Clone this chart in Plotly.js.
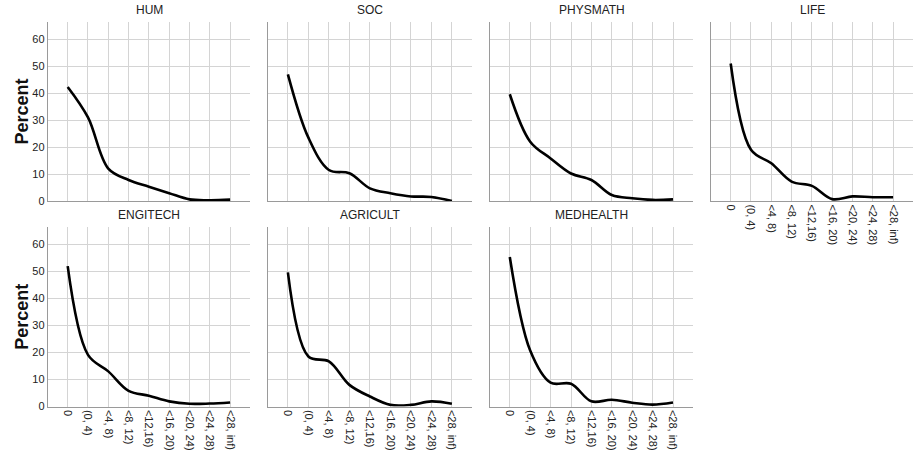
<!DOCTYPE html>
<html>
<head>
<meta charset="utf-8">
<script src="https://cdn.plot.ly/plotly-3.0.1.min.js"></script>
<style>html,body{margin:0;padding:0;background:#fff;}#chart{width:914px;height:454px;}</style>
</head>
<body>
<div id="chart"></div>
<script>
const categories = ["0", "(0, 4)", "<4, 8)", "<8, 12)", "<12,16)", "<16, 20)", "<20, 24)", "<24, 28)", "<28, inf)"];
const panelNames = ["HUM", "SOC", "PHYSMATH", "LIFE", "ENGITECH", "AGRICULT", "MEDHEALTH"];
const hum      = [42.3, 31.0, 12.0, 7.8, 5.3, 2.9, 0.6, 0.3, 0.5];
const soc      = [47.0, 23.5, 11.5, 10.3, 4.7, 2.9, 1.7, 1.5, 0.0];
const physmath = [39.6, 22.0, 15.8, 10.2, 7.8, 2.2, 1.0, 0.4, 0.6];
const life     = [51.0, 19.0, 14.0, 7.2, 5.6, 0.7, 1.7, 1.4, 1.4];
const engitech = [51.9, 19.1, 13.0, 5.8, 4.0, 1.9, 1.0, 1.1, 1.5];
const agricult = [49.6, 18.5, 16.7, 8.0, 3.7, 0.6, 0.6, 1.9, 1.0];
const medhealth= [55.3, 20.7, 8.8, 8.4, 1.9, 2.5, 1.4, 0.7, 1.5];
const yTicks = [0, 10, 20, 30, 40, 50, 60];
const yLabel = "Percent";

const series = [hum, soc, physmath, life, engitech, agricult, medhealth];
const W = 914, H = 454;
const cols = [[48, 250], [268, 472], [490, 693], [711, 913]];
const rows = [[22, 201], [227, 406.5]];
// panel index -> [row, col]
const pos = [[0,0],[0,1],[0,2],[0,3],[1,0],[1,1],[1,2]];
const showX = [false, false, false, true, true, true, true];

const fontFam = "Liberation Sans, Arial, sans-serif";
const data = [];
const layout = {
  width: W, height: H,
  margin: {l: 0, r: 0, t: 0, b: 0},
  paper_bgcolor: "#fff", plot_bgcolor: "#fff",
  showlegend: false,
  font: {family: fontFam, color: "#222"},
  annotations: []
};

series.forEach((vals, i) => {
  const n = i + 1;
  const [r, c] = pos[i];
  const xa = "xaxis" + (n === 1 ? "" : n);
  const ya = "yaxis" + (n === 1 ? "" : n);
  data.push({
    type: "scatter", mode: "lines",
    x: categories, y: vals,
    xaxis: "x" + (n === 1 ? "" : n), yaxis: "y" + (n === 1 ? "" : n),
    line: {color: "#000", width: 2.6, shape: "spline", smoothing: 1},
    hoverinfo: "skip"
  });
  layout[xa] = {
    domain: [cols[c][0] / W, cols[c][1] / W],
    anchor: "y" + (n === 1 ? "" : n),
    type: "category",
    range: [-0.97, 8.98],
    showgrid: true, gridcolor: "#d4d4d4", gridwidth: 1,
    showline: true, linecolor: "#9a9a9a", linewidth: 1.2,
    zeroline: false, ticks: "",
    showticklabels: showX[i],
    tickangle: 90,
    tickfont: {size: 11, family: fontFam, color: "#222"},
    fixedrange: true
  };
  layout[ya] = {
    domain: [1 - rows[r][1] / H, 1 - rows[r][0] / H],
    anchor: "x" + (n === 1 ? "" : n),
    range: [0, 66.4],
    tickvals: yTicks,
    showgrid: true, gridcolor: "#d4d4d4", gridwidth: 1,
    showline: true, linecolor: "#9a9a9a", linewidth: 1.2,
    zeroline: false, ticks: "",
    showticklabels: c === 0,
    tickfont: {size: 11, family: fontFam, color: "#222"},
    fixedrange: true
  };
  layout.annotations.push({
    text: panelNames[i], xref: "paper", yref: "paper",
    x: (cols[c][0] + cols[c][1]) / 2 / W,
    y: 1 - (rows[r][0] - 3) / H,
    xanchor: "center", yanchor: "bottom", showarrow: false,
    font: {size: 12, family: fontFam, color: "#222"}
  });
});

rows.forEach(rw => {
  layout.annotations.push({
    text: "<b>" + yLabel + "</b>", xref: "paper", yref: "paper",
    x: 22 / W, y: 1 - ((rw[0] + rw[1]) / 2) / H,
    xanchor: "center", yanchor: "middle", showarrow: false, textangle: -90,
    font: {size: 18, family: fontFam, color: "#111"}
  });
});

Plotly.newPlot("chart", data, layout, {staticPlot: true, displayModeBar: false});
</script>
</body>
</html>
